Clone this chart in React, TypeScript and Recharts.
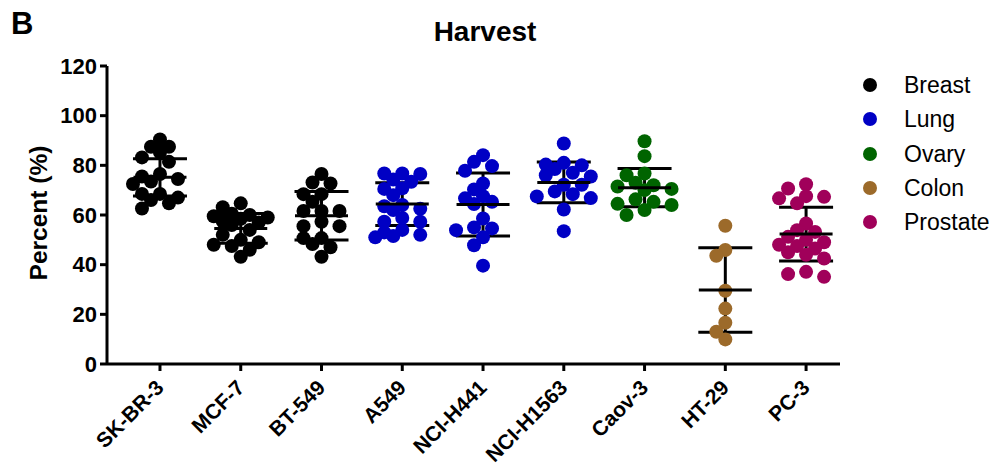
import React from "react";
import { ScatterChart, Scatter, XAxis, YAxis, ErrorBar } from "recharts";

// ---------- data ----------
const cellLines = ["SK-BR-3", "MCF-7", "BT-549", "A549", "NCI-H441", "NCI-H1563", "Caov-3", "HT-29", "PC-3"];
const lineTissue = ["Breast", "Breast", "Breast", "Lung", "Lung", "Lung", "Ovary", "Colon", "Prostate"];
const tissues = ["Breast", "Lung", "Ovary", "Colon", "Prostate"];
const tissueColors = ["#000000", "#0000C4", "#006400", "#9C6A2A", "#A0005A"];
const yTicks = [0, 20, 40, 60, 80, 100, 120];

const skbr3 = [90.4, 87.5, 87.5, 85.2, 83.2, 81.4, 76.5, 75.5, 74.5, 73.5, 72.5, 68.5, 68.5, 67, 66, 64.7, 62.6];
const mcf7 = [64.7, 63.1, 60.5, 60, 59.5, 59, 58.5, 57.5, 57, 56, 54, 52, 50, 49, 48, 47.5, 46, 43.2];
const bt549 = [76.5, 73.1, 72.7, 68.4, 68.4, 65.3, 61.6, 61.6, 61.6, 57.3, 55.5, 55.5, 50.7, 50.7, 48.3, 47, 43.2];
const a549 = [76.7, 76.5, 76.7, 74.3, 73.4, 70.8, 70.5, 68, 64, 63.5, 62.5, 62, 58.8, 57.3, 57.3, 54, 53, 52, 51, 51.5];
const nciH441 = [84.1, 81.4, 79.7, 77.8, 72.7, 70.3, 67.6, 66.7, 65.3, 64.4, 58.6, 55, 54.6, 53.9, 51, 47.8, 39.6];
const nciH1563 = [88.8, 81, 80.3, 80, 78.5, 77, 76, 75.5, 72.2, 72.2, 69.5, 68.4, 67.5, 66.8, 62.2, 53.5];
const caov3 = [89.7, 83.7, 76.7, 76, 73, 72, 71.5, 70.5, 70, 66.3, 65.3, 64.5, 64, 62, 60];
const ht29 = [55.7, 45.9, 43.6, 29.5, 22.3, 16.6, 13, 9.9];
const pc3 = [72.4, 70.7, 67.6, 67.3, 66.7, 64.7, 56.6, 53.9, 53.2, 51.2, 50, 49, 48, 47.5, 46.5, 45, 44, 42.5, 37.1, 36.2, 35.1];

const groupValues = [skbr3, mcf7, bt549, a549, nciH441, nciH1563, caov3, ht29, pc3];
const means = [75.2, 54.6, 59.7, 64.4, 64.2, 73.1, 71.0, 29.8, 52.3];
const sds = [7.5, 6.0, 9.8, 8.6, 12.7, 8.2, 7.7, 17.0, 10.8];

// ---------- layout ----------
const W = 989;
const H = 464;
const BOX_H = 456;
const M = { top: 58, right: 157, bottom: 28, left: 29 };
const Y_AXIS_W = 70;
const X_AXIS_H = 80;
const X_DOMAIN: [number, number] = [-0.656, 8.42];
const PLOT_W = W - M.left - M.right - Y_AXIS_W;
const PLOT_H = H - M.top - M.bottom - X_AXIS_H;
const X_PX = PLOT_W / (X_DOMAIN[1] - X_DOMAIN[0]);
const Y_PX = PLOT_H / 120;
const R = 7;
const STEP = 9;
const MIN_D = 10.5;
const FONT = "'Liberation Sans', Arial, Helvetica, sans-serif";

// deterministic beeswarm layout
function swarm(values: number[], cat: number) {
  const order = values.map((_, i) => i).sort((a, b) => values[b] - values[a]);
  const placed: { dx: number; py: number }[] = [];
  const out: { x: number; y: number }[] = new Array(values.length);
  const cands = [0, -STEP, STEP, -2 * STEP, 2 * STEP, -3 * STEP, 3 * STEP];
  for (const i of order) {
    const py = values[i] * Y_PX;
    let chosen = 0;
    let best = -1;
    for (const c of cands) {
      const md = placed.reduce((m, p) => Math.min(m, Math.hypot(p.dx - c, p.py - py)), Infinity);
      if (md >= MIN_D) {
        chosen = c;
        break;
      }
      if (md > best) {
        best = md;
        chosen = c;
      }
    }
    placed.push({ dx: chosen, py });
    out[i] = { x: cat + chosen / X_PX, y: values[i] };
  }
  return out;
}

const seriesByTissue = tissues.map((t) => {
  const pts: { x: number; y: number }[] = [];
  cellLines.forEach((_, ci) => {
    if (lineTissue[ci] === t) pts.push(...swarm(groupValues[ci], ci));
  });
  return pts;
});

const meanData = cellLines.map((_, i) => ({ x: i, y: means[i], err: sds[i] }));

const XTick = (props: any) => {
  const { x, y, payload } = props;
  const px = x + 5;
  const py = y + 16;
  return (
    <text
      x={px}
      y={py}
      transform={`rotate(-45, ${px}, ${py})`}
      textAnchor="end"
      fontFamily={FONT}
      fontWeight="bold"
      fontSize={21}
      fill="#000"
    >
      {cellLines[payload.value]}
    </text>
  );
};

export default function App() {
  return (
    <div style={{ position: "relative", width: W, height: BOX_H, background: "#fff", fontFamily: FONT }}>
      <div style={{ position: "absolute", left: 3, top: -2, fontSize: 31, fontWeight: "bold", lineHeight: "36px" }}>B</div>
      <div
        style={{
          position: "absolute",
          left: 477,
          top: 8,
          transform: "translateX(-50%)",
          fontSize: 28,
          fontWeight: "bold",
          lineHeight: "32px",
          whiteSpace: "nowrap",
        }}
      >
        Harvest
      </div>
      <div
        style={{
          position: "absolute",
          left: 31,
          top: 205,
          transform: "translate(-50%, -50%) rotate(-90deg)",
          fontSize: 24.5,
          fontWeight: "bold",
          whiteSpace: "nowrap",
        }}
      >
        Percent (%)
      </div>
      <div style={{ position: "absolute", left: 850, top: 60, whiteSpace: "nowrap" }}>
        {tissues.map((t, i) => (
          <div key={t} style={{ display: "flex", alignItems: "center", height: 34.3 }}>
            <svg width={24} height={20} style={{ marginRight: 22, flexShrink: 0 }}>
              <circle cx={12} cy={10} r={7} fill={tissueColors[i]} />
            </svg>
            <span style={{ fontSize: 23, lineHeight: "26px" }}>{t}</span>
          </div>
        ))}
      </div>
      <div style={{ position: "absolute", left: 0, top: 0, width: W, height: H }}>
        <ScatterChart width={W} height={H} margin={M}>
          <XAxis
            type="number"
            dataKey="x"
            domain={X_DOMAIN}
            ticks={[0, 1, 2, 3, 4, 5, 6, 7, 8]}
            allowDataOverflow
            height={X_AXIS_H}
            interval={0}
            axisLine={{ stroke: "#000", strokeWidth: 3 }}
            tickLine={{ stroke: "#000", strokeWidth: 3 }}
            tickSize={7}
            tickMargin={2}
            tick={<XTick />}
          />
          <YAxis
            type="number"
            dataKey="y"
            domain={[0, 120]}
            ticks={yTicks}
            width={Y_AXIS_W}
            interval={0}
            axisLine={{ stroke: "#000", strokeWidth: 3 }}
            tickLine={{ stroke: "#000", strokeWidth: 3 }}
            tickSize={7}
            tickMargin={3}
            tick={{ fill: "#000", fontSize: 22, fontWeight: "bold", fontFamily: FONT }}
          />
          {tissues.map((t, i) => (
            <Scatter
              key={t}
              name={t}
              data={seriesByTissue[i]}
              isAnimationActive={false}
              shape={(p: any) => <circle cx={p.cx} cy={p.cy} r={R} fill={tissueColors[i]} />}
            />
          ))}
          <Scatter
            name="mean"
            data={meanData}
            isAnimationActive={false}
            shape={(p: any) => (
              <line x1={p.cx - 26.5} x2={p.cx + 26.5} y1={p.cy} y2={p.cy} stroke="#000" strokeWidth={3} />
            )}
          >
            <ErrorBar dataKey="err" direction="y" width={27} strokeWidth={3} stroke="#000" isAnimationActive={false} />
          </Scatter>
        </ScatterChart>
      </div>
    </div>
  );
}
